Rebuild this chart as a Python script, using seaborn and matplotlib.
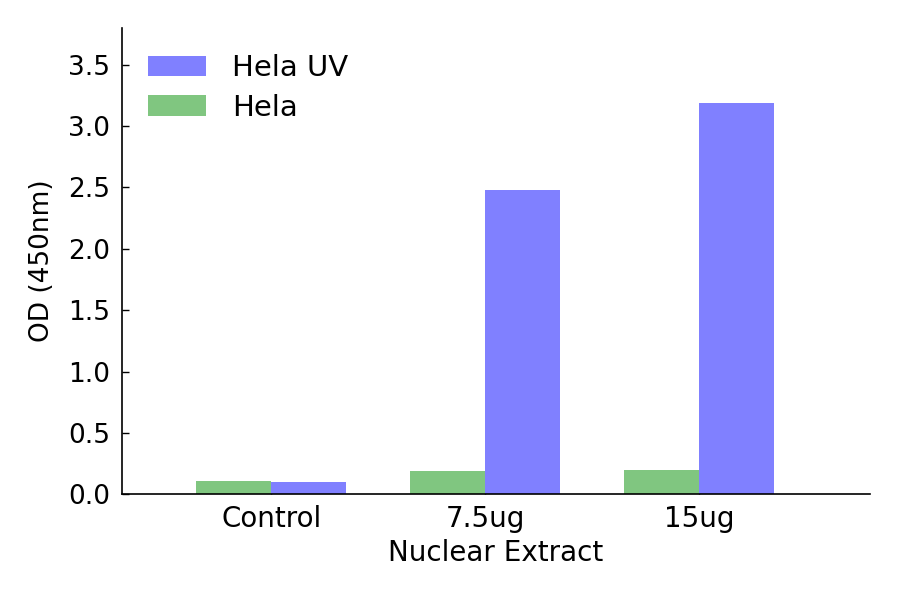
import numpy as np
import pandas as pd
import matplotlib
matplotlib.use("Agg")
import matplotlib.pyplot as plt
import seaborn as sns

# data
groups = ["Control", "7.5ug", "15ug"]
hela = [0.11, 0.19, 0.20]
hela_uv = [0.10, 2.48, 3.19]

df = pd.DataFrame({
    "group": groups * 2,
    "sample": ["Hela"] * 3 + ["Hela UV"] * 3,
    "od": hela + hela_uv,
})

sns.set_style("white")
plt.rcParams["font.family"] = ["DejaVu Sans"]
plt.rcParams["text.color"] = "black"
plt.rcParams["axes.labelcolor"] = "black"
plt.rcParams["xtick.color"] = "black"
plt.rcParams["ytick.color"] = "black"

fig, ax = plt.subplots(figsize=(9, 5.94), dpi=100)
sns.barplot(data=df, x="group", y="od", hue="sample", order=groups,
            hue_order=["Hela", "Hela UV"],
            palette={"Hela": "#80c680", "Hela UV": "#8080ff"},
            width=0.7, saturation=1, ax=ax, errorbar=None, linewidth=0)

ax.set_xlim(-0.7, 2.8)
ax.set_ylim(0, 3.8)
ax.set_yticks(np.arange(0, 3.51, 0.5))
ax.set_yticklabels([f"{v:.1f}" for v in np.arange(0, 3.51, 0.5)])
ax.tick_params(axis="both", direction="in", length=5, width=1, labelsize=19,
               left=True, bottom=True, pad=8)
ax.tick_params(axis="x", labelsize=20)
for s in ["top", "right"]:
    ax.spines[s].set_visible(False)
for s in ["left", "bottom"]:
    ax.spines[s].set_color("black")
    ax.spines[s].set_linewidth(1.2)

ax.set_xlabel("Nuclear Extract", fontsize=20, labelpad=4)
ax.set_ylabel("OD (450nm)", fontsize=19, labelpad=10)

handles, labels = ax.get_legend_handles_labels()
ax.legend(handles[::-1], labels[::-1], loc="upper left", frameon=False,
          fontsize=21, handlelength=2.0, handleheight=0.7, borderaxespad=0.5,
          handletextpad=0.9, labelspacing=0.4)

fig.subplots_adjust(left=0.135, right=0.967, top=0.953, bottom=0.168)
fig.savefig("out.png", dpi=100)
